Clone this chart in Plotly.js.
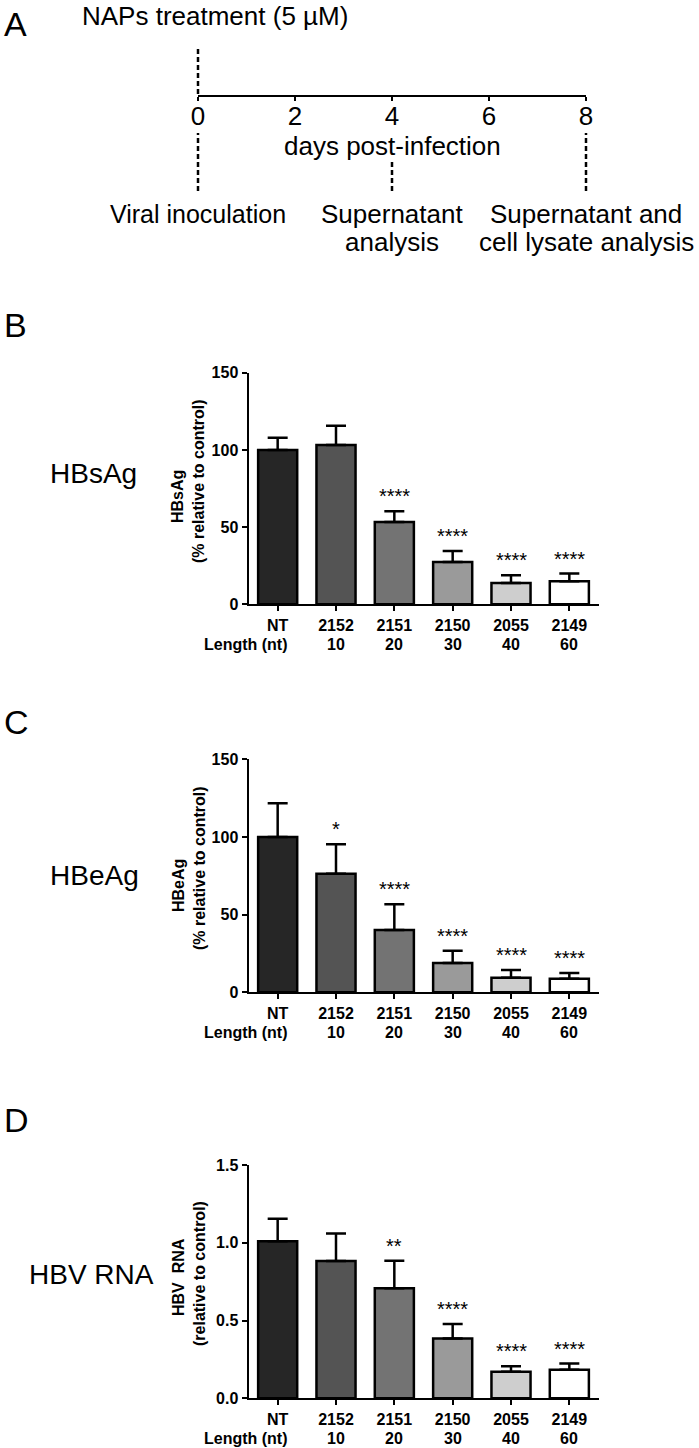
<!DOCTYPE html>
<html>
<head>
<meta charset="utf-8">
<script src="https://cdn.plot.ly/plotly-3.0.1.min.js"></script>
<style>body{margin:0;background:#fff}</style>
</head>
<body>
<div id="fig" style="width:699px;height:1448px"></div>
<script>
// Panel A: timeline
const dayTicks = [0, 2, 4, 6, 8];
const treatStartDay = 0;
const eventDays = [0, 4, 8];
const eventLabels = [['Viral inoculation'], ['Supernatant', 'analysis'], ['Supernatant and', 'cell lysate analysis']];

// Panels B-D: shared categories
const oligos = ['NT', '2152', '2151', '2150', '2055', '2149'];
const lengths = ['', '10', '20', '30', '40', '60'];
const barColors = ['#262626', '#545454', '#737373', '#9a9a9a', '#cecece', '#ffffff'];

// B: HBsAg
const hbsMean = [100, 103.2, 53.3, 27.4, 13.8, 14.9];
const hbsErr = [7.9, 12.5, 6.9, 7.1, 5.0, 5.0];
const hbsStars = ['', '', '****', '****', '****', '****'];

// C: HBeAg
const hbeMean = [100, 76.4, 40.1, 18.9, 9.4, 8.8];
const hbeErr = [21.7, 18.9, 16.6, 7.9, 5.0, 3.6];
const hbeStars = ['', '*', '****', '****', '****', '****'];

// D: HBV RNA
const rnaMean = [1.01, 0.883, 0.707, 0.384, 0.171, 0.184];
const rnaErr = [0.145, 0.176, 0.178, 0.094, 0.035, 0.039];
const rnaStars = ['', '', '**', '****', '****', '****'];

const W = 699, H = 1448;
const px = v => v / W;
const py = v => 1 - v / H;
const FONT = 'Arial, "Liberation Sans", sans-serif';
const txt = (size, bold) => ({family: FONT, size: size, color: '#000', weight: bold ? 'bold' : 'normal'});

const panels = [
    {id: 2, mean: hbsMean, err: hbsErr, stars: hbsStars, letter: 'B', label: 'HBsAg', labelX: 48,
     title: ['HBsAg', '(% relative to control)'], titleY: [497, 481],
     top: 372.7, bottom: 604.3, letterY: 325, labelY: 473, range: [0, 150], dtick: 50, fmt: 'd'},
    {id: 3, mean: hbeMean, err: hbeErr, stars: hbeStars, letter: 'C', label: 'HBeAg', labelX: 48,
     title: ['HBeAg', '(% relative to control)'], titleY: [886, 868],
     top: 759.3, bottom: 992.3, letterY: 722, labelY: 875, range: [0, 150], dtick: 50, fmt: 'd'},
    {id: 4, mean: rnaMean, err: rnaErr, stars: rnaStars, letter: 'D', label: 'HBV RNA', labelX: 27,
     title: ['HBV  RNA', '(relative to control)'], titleY: [1277, 1274],
     top: 1165, bottom: 1398.3, letterY: 1120, labelY: 1274, range: [0, 1.5], dtick: 0.5, fmt: '.1f'}
];

const traces = [];
const shapes = [];
const annotations = [];

// timeline axis spans day 0..8 over 198..586 px; a hidden twin with half a day of slack
// on each side carries the dashed markers so they are not clipped at the ends
const tl0 = 198, tl1 = 586, perDay = (tl1 - tl0) / 8;
const layout = {
    width: W, height: H,
    margin: {l: 0, r: 0, t: 0, b: 0},
    paper_bgcolor: '#fff', plot_bgcolor: 'rgba(0,0,0,0)',
    showlegend: false,
    font: txt(16, false),
    xaxis: {
        domain: [px(tl0), px(tl1)], range: [0, 8], anchor: 'free', position: py(96),
        tickvals: dayTicks, ticks: 'outside', ticklen: 4, tickwidth: 2, tickcolor: '#000',
        showline: true, linewidth: 2, linecolor: '#000', showgrid: false, zeroline: false,
        tickfont: txt(26, false), ticklabelstandoff: -7
    },
    xaxis5: {
        domain: [px(tl0 - perDay / 2), px(tl1 + perDay / 2)], range: [-0.5, 8.5],
        anchor: 'y', visible: false
    },
    yaxis: {domain: [py(200), py(40)], range: [0, 1], visible: false}
};
traces.push({type: 'scatter', x: [], y: [], xaxis: 'x5', yaxis: 'y', hoverinfo: 'none'});

// dashed markers on the timeline
const dash = {color: '#000', width: 2.5, dash: '5px,3px'};
shapes.push({type: 'line', xref: 'x5', yref: 'paper', x0: treatStartDay, x1: treatStartDay,
    y0: py(94), y1: py(47), line: dash});
const dashTop = [133, 160, 133];
eventDays.forEach((d, i) => {
    shapes.push({type: 'line', xref: 'x5', yref: 'paper', x0: d, x1: d,
        y0: py(191), y1: py(dashTop[i]), line: dash});
    eventLabels[i].forEach((line, j) => {
        annotations.push({xref: 'x', yref: 'paper', x: d, y: py(214 + 28 * j), text: line,
            showarrow: false, xanchor: 'center', yanchor: 'middle', font: txt(i === 0 ? 25 : 26, false)});
    });
});
annotations.push({xref: 'paper', yref: 'paper', x: px(2), y: py(24), text: 'A', showarrow: false,
    xanchor: 'left', yanchor: 'middle', font: txt(34, false)});
annotations.push({xref: 'paper', yref: 'paper', x: px(80), y: py(16), text: 'NAPs treatment (5 µM)',
    showarrow: false, xanchor: 'left', yanchor: 'middle', font: txt(26, false)});
annotations.push({xref: 'x', yref: 'paper', x: 4, y: py(146), text: 'days post-infection',
    showarrow: false, xanchor: 'center', yanchor: 'middle', font: txt(26, false)});

panels.forEach(p => {
    const xa = 'x' + p.id, ya = 'y' + p.id;
    traces.push({
        type: 'bar', x: oligos, y: p.mean, xaxis: xa, yaxis: ya, width: 0.67,
        marker: {color: barColors, line: {color: '#000', width: 2.5}},
        error_y: {type: 'data', array: p.err, arrayminus: p.err.map(() => 0), symmetric: false,
            color: '#000', thickness: 2.5, width: 10},
        hoverinfo: 'none'
    });
    layout['xaxis' + p.id] = {
        domain: [px(248.5), px(598.5)], anchor: ya, type: 'category', range: [-0.5, 5.5],
        showline: true, linewidth: 2, linecolor: '#000', ticks: 'outside', ticklen: 5,
        tickwidth: 2, tickcolor: '#000', showgrid: false, zeroline: false, tickfont: txt(16, true)
    };
    layout['yaxis' + p.id] = {
        domain: [py(p.bottom), py(p.top)], anchor: xa, range: p.range, dtick: p.dtick,
        tickformat: p.fmt, showline: true, linewidth: 2, linecolor: '#000', ticks: 'outside',
        ticklen: 5, tickwidth: 2, tickcolor: '#000', showgrid: false, zeroline: false,
        tickfont: txt(16, true)
    };
    // significance stars above error bars (category axes take the serial index)
    p.stars.forEach((s, i) => {
        if (!s) return;
        annotations.push({xref: xa, yref: ya, x: i, y: p.mean[i] + p.err[i], text: s,
            showarrow: false, xanchor: 'center', yanchor: 'bottom', yshift: 2, font: txt(20, false)});
    });
    // second row: oligo length
    lengths.forEach((l, i) => {
        if (!l) return;
        annotations.push({xref: xa, yref: 'paper', x: i, y: py(p.bottom + 40), text: l,
            showarrow: false, xanchor: 'center', yanchor: 'middle', font: txt(16, true)});
    });
    annotations.push({xref: 'paper', yref: 'paper', x: px(246), y: py(p.bottom + 40), text: 'Length (nt)',
        showarrow: false, xanchor: 'center', yanchor: 'middle', font: txt(16, true)});
    // rotated y-axis title, two lines
    p.title.forEach((t, j) => {
        annotations.push({xref: 'paper', yref: 'paper', x: px(178 + 21 * j), y: py(p.titleY[j]), text: t,
            textangle: -90, showarrow: false, xanchor: 'center', yanchor: 'middle', font: txt(16, true)});
    });
    annotations.push({xref: 'paper', yref: 'paper', x: px(2), y: py(p.letterY), text: p.letter,
        showarrow: false, xanchor: 'left', yanchor: 'middle', font: txt(34, false)});
    annotations.push({xref: 'paper', yref: 'paper', x: px(p.labelX), y: py(p.labelY), text: p.label,
        showarrow: false, xanchor: 'left', yanchor: 'middle', font: txt(28, false)});
});

layout.shapes = shapes;
layout.annotations = annotations;

Plotly.newPlot('fig', traces, layout, {staticPlot: true, displayModeBar: false});
</script>
</body>
</html>
